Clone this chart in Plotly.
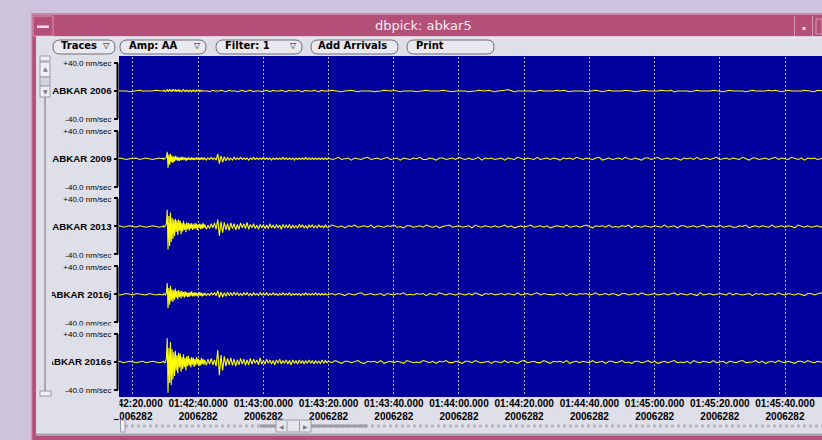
import numpy as np
import plotly.graph_objects as go

# ---------------- data ----------------
stations = ["ABKAR 2006", "ABKAR 2009", "ABKAR 2013", "ABKAR 2016j", "ABKAR 2016s"]
scale_top = "+40.0 nm/sec"
scale_bot = "-40.0 nm/sec"
scale_max = 40.0

tick_secs = [20, 40, 60, 80, 100, 120, 140, 160, 180, 200, 220]   # seconds after 01:42:00
tick_times = ["01:42:20.000", "01:42:40.000", "01:43:00.000", "01:43:20.000", "01:43:40.000",
              "01:44:00.000", "01:44:20.000", "01:44:40.000", "01:45:00.000", "01:45:20.000",
              "01:45:40.000"]
tick_day = "2006282"
x_window = [15.71, 231.35]

# sampling of each trace: segments (start 15 s) with steps 1.0, 0.25, 0.5, 1.0 s
seg_start = 15.0
seg_steps = [1.0, 0.25, 0.5, 1.0]

abkar2006 = [
    [0, 0, 1, 0, -1, 0, 0, 1, 0, 0, -1, 0, 1, 0],
    [0, 0, 1, 0, -1, 1, 2, -1, 1, 2, 0, 1, -1, 2, 1, 0, 2, -1, 1, 0, 2, -1, 1, 0, -1, 1,
     2, 0, -1, 1, 0, 1, -1, 0, 1, 0, -1, 1, 0, 1, 0, -1, 1, 0, 0, 1, -1, 0, 1, 0, 0, 1],
    [0, 1, 0, -1, 0, 1, 0, 0, -1, 0, 1, 0, -1, -1, 0, 1, 0, 0, 1, 0, -1, 0, 0, 1, 0, -1, 0, 1, 1, 0, -1, 0,
     0, 1, 0, -1, 0, 0, 1, 0, -1, 0, 1, 0, 0, -1, 0, 1, 0, 0, -1, 0, 1, 0, 0, -1, 0, 1, 0, 0, -1, 0, 1, 0,
     0, -1, 0, 1, 0, 0, -1, 0, 1, 0, 0, -1],
    [0, 1, 0, 0, -1, 0, 1, 1, 0, -1, 0, 0, 1, 0, -1, -1, 0, 1, 0, 0,
     1, 0, -1, 0, 0, 1, 0, -1, 0, 1, 1, 0, 0, -1, 0, 1, 0, 0, -1, 0,
     0, 1, 0, -1, -1, 0, 1, 0, 0, 1, 0, -1, 0, 0, 1, 2, 0, -1, 0, 0,
     1, 0, 0, -1, 0, 1, 0, 0, -1, 0, 1, 0, 1, 0, -1, 0, 0, 1, 0, -1,
     0, 0, 1, 0, -1, 0, 1, 0, 0, -1, 0, 1, 1, 0, -1, 0, 0, 1, 0, 0,
     -1, 0, 1, 0, 0, 1, -1, 0, 0, 1, 0, -1, 0, 1, 0, 0, -1, 0, 1, 0,
     0, -1, 0, 1, 0, 0, 1, 0, -1, 0, 1, 0, 0, -1, 0, 1, 0, 1, 0, -1,
     0, 1, 0, 0, -1, 0, 1, 0, 0, -1, 1, 0, 0, 1, 0, -1, 0, 0, 1, 0],
]

abkar2009 = [
    [0, 1, 0, -1, 0, 0, 1, -1, 0, 1, 0, -1, 0, 1],
    [0, 1, -1, 0, 1, 2, 10, -13, 6, -9, 7, -5, 4, -6, 3, -4, 4, -2, 3, -3, 2, -3, 2, -2,
     3, -2, 2, -1, 2, -3, 1, -2, 2, -1, 1, -2, 2, -1, 1, -2, 1, -1, 2, -1, 1, -2, 1, -1, 2, -1, 1, -1],
    [1, -2, 1, -1, 2, -1, 1, -2, 7, -7, 4, -5, 3, -3, 2, -2, 1, -2, 2, -1, 1, -1, 2, -1,
     1, -1, 1, -2, 1, -1, 2, -1, 1, -1, 1, -1, 2, -1, 1, -1, 1, -2, 1, -1, 1, -1, 1, -1,
     2, -1, 1, -1, 1, -1, 1, -2, 1, -1, 1, -1, 1, -1, 2, -1, 1, -1, 1, -1, 1, -1, 1, -1, 1, -1, 1, -1],
    [1, -1, 0, 2, -1, 0, 1, -2, 1, 0, -1, 1, 2, -1, 0, 1, -1, 0, 2, -1,
     0, 1, -2, 1, 0, -1, 1, 0, 2, -1, -1, 1, 0, -2, 1, 1, -1, 0, 1, -1,
     2, 0, -1, 1, -1, 0, 2, -2, 1, 0, 1, -1, 0, 1, -2, 1, 0, -1, 2, 0,
     -1, 1, 0, -1, 2, -1, 0, 1, -1, 1, 0, -2, 1, 0, 1, -1, 2, 0, -1, 1,
     0, -1, 1, 2, -2, 0, 1, -1, 0, 1, -1, 2, 0, -1, 1, 0, -2, 1, 1, -1,
     0, 2, -1, 0, 1, -1, 1, 0, -2, 1, 0, 1, -1, 2, -1, 0, 1, -1, 0, 2,
     -1, 0, 1, -1, 1, 0, -1, 2, 0, -2, 1, 1, -1, 0, 1, -1, 0, 2, -1, 1,
     0, -1, 2, 0, -1, 1, -2, 1, 0, 1, -1, 0, 2, -1, 0, 1, -1, 1, 0, -1],
]

abkar2013 = [
    [0, 1, -1, 0, 1, 0, -1, 1, 0, -1, 0, 1, 0, -1],
    [0, 1, -1, 0, 1, 4, 24, -33, 15, -28, 20, -22, 12, -18, 10, -14, 11, -8, 9, -12, 10, -6,
     8, -11, 5, -7, 8, -5, 4, -8, 6, -4, 5, -6, 4, -3, 5, -5, 3, -4, 5, -3, 4, -5, 3, -2,
     4, -4, 3, -3, 5, -2],
    [3, -4, 2, -3, 4, -2, 5, -4, 10, -13, 7, -9, 6, -5, 4, -6, 5, -3, 4, -5, 3, -4, 5, -2,
     4, -3, 6, -4, 3, -2, 4, -3, 2, -4, 3, -2, 3, -3, 2, -3, 4, -2, 2, -3, 3, -2, 2, -4,
     3, -2, 2, -2, 3, -3, 2, -2, 1, -2, 3, -1, 2, -2, 1, -3, 2, -1, 2, -2, 1, -2, 2, -1, 1, -2, 2, -1],
    [-1, 2, 0, -1, 1, -2, 1, 0, 2, -1, 0, 1, -1, 2, -2, 1, 0, -1, 1, 0,
     2, -1, 0, -2, 1, 1, -1, 0, 1, -1, 2, 0, -1, 1, -2, 0, 1, 2, -1, 0,
     1, -1, 0, 1, -2, 2, 0, -1, 1, 0, -1, 1, -1, 0, 2, -1, 1, -2, 0, 1,
     -1, 0, 2, -1, 0, 1, -1, 1, -2, 0, 1, 0, -1, 2, -1, 0, 1, -1, 0, 2,
     0, -2, 1, 0, 1, -1, 2, -1, 0, -1, 1, 0, 2, -2, 1, 0, -1, 1, 0, -1,
     1, 0, -1, 2, -1, 0, 1, -2, 1, 1, -1, 0, 1, -1, 0, 2, -1, 0, 1, -1,
     2, -1, 0, 1, -1, -1, 1, 0, 2, -2, 0, 1, -1, 1, 0, -1, 2, -1, 0, 1,
     -1, 1, 0, -2, 2, 0, -1, 1, -1, 0, 1, -1, 2, 0, -1, 1, 0, -2, 1, 0],
]

abkar2016j = [
    [0, -1, 0, 1, 0, -1, 1, 0, 0, -1, 1, 0, -1, 0],
    [0, -1, 1, 0, -1, 3, 16, -20, 9, -15, 12, -10, 7, -11, 6, -8, 8, -5, 5, -7, 6, -4, 4, -6,
     5, -3, 3, -5, 4, -3, 3, -4, 2, -4, 3, -2, 4, -3, 2, -3, 3, -2, 2, -3, 2, -2, 3, -2,
     2, -3, 1, -2],
    [2, -2, 1, -2, 2, -1, 2, -2, 5, -5, 3, -4, 2, -3, 3, -2, 2, -2, 3, -1, 2, -2, 1, -2,
     2, -1, 2, -2, 1, -2, 2, -1, 1, -2, 2, -1, 1, -1, 2, -2, 1, -1, 2, -1, 1, -2, 1, -1,
     2, -1, 1, -1, 2, -2, 1, -1, 1, -1, 1, -2, 1, -1, 2, -1, 1, -1, 1, -1, 2, -1, 1, -1, 1, -1, 1, -1],
    [0, 1, -1, 1, 0, -2, 1, 0, -1, 1, 2, -1, 0, 1, -1, 0, 1, -2, 1, 0,
     -1, 1, 0, 2, -1, 0, -1, 1, 0, 1, -2, 1, 0, -1, 2, 0, -1, 1, 0, -1,
     1, 0, -1, 1, -1, 2, 0, -2, 1, 0, 1, -1, 0, 1, -1, 1, 0, -1, 2, -1,
     0, 1, -1, 0, 2, -1, 1, 0, -1, -1, 1, 0, 1, -2, 1, 0, -1, 1, 0, 1,
     -1, 0, 2, -1, 0, 1, -1, 1, 0, -2, 1, 1, -1, 0, 1, -1, 2, 0, -1, 0,
     1, -1, 0, 1, -1, 0, 2, -1, 1, 0, -1, 1, 0, -2, 2, -1, 0, 1, -1, 0,
     1, 0, -1, 2, -1, 1, 0, -1, 0, 1, -2, 1, 0, 1, -1, 0, 1, -1, 2, 0,
     -1, 1, 0, -1, 1, 0, -2, 1, 1, -1, 0, 2, -1, 0, 1, -1, 0, 1, -1, 1],
]

abkar2016s = [
    [0, 1, -1, 0, 1, 0, -1, 0, 1, -1, 0, 1, 0, -1],
    [0, 1, 0, -1, 0, 6, 34, -44, 20, -30, 28, -33, 18, -25, 14, -20, 16, -12, 10, -16, 13, -8,
     12, -14, 7, -10, 11, -7, 6, -12, 8, -6, 9, -5, 5, -8, 7, -4, 6, -7, 4, -5, 7, -3, 5, -6,
     3, -5, 6, -3, 4, -4],
    [3, -5, 4, -3, 5, -4, 3, -6, 17, -19, 10, -12, 8, -6, 5, -4, 6, -5, 4, -6, 3, -4, 5, -3,
     4, -5, 3, -4, 5, -3, 4, -2, 3, -4, 6, -3, 2, -3, 4, -2, 3, -3, 2, -4, 3, -2, 4, -3,
     2, -2, 3, -3, 2, -4, 3, -2, 2, -3, 3, -2, 2, -3, 2, -2, 3, -2, 2, -3, 2, -2, 1, -2, 3, -2, 2, -1],
    [1, -1, 2, 0, -2, 1, 1, -1, 0, 2, -1, -2, 1, 0, 1, -1, 2, -2, 0, 1,
     -1, 1, 0, -2, 2, 1, -1, 0, -1, 2, 0, -1, 1, -2, 1, 0, 2, -1, -1, 1,
     0, -2, 1, 1, -1, 2, 0, -1, 0, 1, -2, 1, 0, -1, 2, -1, 1, 0, -2, 1,
     2, -1, 0, 1, -1, -1, 2, 0, -2, 1, 0, 1, -1, 2, -2, 0, 1, -1, 1, 0,
     -1, 2, -1, 0, 1, -2, 1, 1, -1, 0, 2, -1, 0, -2, 1, 1, -1, 0, 2, -1,
     1, -2, 0, 1, -1, 1, 2, -1, 0, -1, 1, -2, 2, 0, -1, 1, 0, -1, 2, -1,
     0, 1, -2, 1, 0, -1, 1, 2, -1, -1, 0, 2, -1, 1, -2, 0, 1, -1, 2, 0,
     -1, 1, 0, -2, 1, 1, -1, 2, 0, -1, 1, 0, -1, 2, -1, 0, 1, -2, 1, 0],
]

waveforms = [abkar2006, abkar2009, abkar2013, abkar2016j, abkar2016s]


def build(segments):
    t0 = seg_start
    ts, vs = [], []
    for step, vals in zip(seg_steps, segments):
        ts.append(t0 + step * np.arange(len(vals)))
        vs.extend(vals)
        t0 += step * len(vals)
    return np.concatenate(ts), np.array(vs, dtype=float)


# ---------------- geometry helpers (pixels) ----------------
W, H = 822, 440
def px(x): return x / W
def py(y): return 1 - y / H

shapes, annotations = [], []

def rect(x0, y0, x1, y1, fill, line=None, lw=0, layer="below"):
    shapes.append(dict(type="rect", xref="paper", yref="paper",
                       x0=px(x0), x1=px(x1), y0=py(y1), y1=py(y0),
                       fillcolor=fill, line=dict(color=line or fill, width=lw), layer=layer))

def seg(x0, y0, x1, y1, color, lw=1, layer="below", dash="solid"):
    shapes.append(dict(type="line", xref="paper", yref="paper",
                       x0=px(x0), x1=px(x1), y0=py(y0), y1=py(y1),
                       line=dict(color=color, width=lw, dash=dash), layer=layer))

def pill(x0, y0, x1, y1, fill, line, r=7):
    X = lambda v: f"{px(v):.5f}"
    Y = lambda v: f"{py(v):.5f}"
    p = (f"M {X(x0+r)},{Y(y0)} L {X(x1-r)},{Y(y0)} Q {X(x1)},{Y(y0)} {X(x1)},{Y(y0+r)} "
         f"L {X(x1)},{Y(y1-r)} Q {X(x1)},{Y(y1)} {X(x1-r)},{Y(y1)} "
         f"L {X(x0+r)},{Y(y1)} Q {X(x0)},{Y(y1)} {X(x0)},{Y(y1-r)} "
         f"L {X(x0)},{Y(y0+r)} Q {X(x0)},{Y(y0)} {X(x0+r)},{Y(y0)} Z")
    shapes.append(dict(type="path", xref="paper", yref="paper", path=p,
                       fillcolor=fill, line=dict(color=line, width=1), layer="below"))

def text(x, y, s, size=10, color="#000000", family="Liberation Sans", bold=False, xanchor="left"):
    annotations.append(dict(x=px(x), y=py(y), xref="paper", yref="paper", text=s,
                            showarrow=False, xanchor=xanchor, yanchor="middle", borderpad=0,
                            font=dict(family=family, size=size, color=color,
                                      weight="bold" if bold else "normal")))

PINK = "#b45078"
PINK_LIGHT = "#d898b4"
GRAY = "#dfdfea"
BLUE = "#00009c"
LAVENDER = "#cdc3dc"

# ---------------- window chrome ----------------
rect(31, 13, 822, 440, PINK)
seg(31, 14, 822, 14, PINK_LIGHT, 1.5)
seg(31.5, 14, 31.5, 440, PINK_LIGHT, 1.5)
rect(33, 16, 53, 36, PINK, line=PINK_LIGHT, lw=1)
rect(37, 25.5, 49, 28, "#f2dfe8", line="#f2dfe8")
seg(794.5, 16, 794.5, 36, PINK_LIGHT, 1)
rect(802.5, 27, 805.5, 30, "#f2dfe8", line="#f2dfe8")
seg(812.5, 16, 812.5, 36, PINK_LIGHT, 1)
rect(816, 19, 822, 34, PINK, line=PINK_LIGHT, lw=1)
rect(36, 36.5, 822, 434, GRAY)
seg(36, 37, 822, 37, "#f4f4f8", 1)
rect(36, 433.5, 822, 436, "#a8a0b0")
text(423, 26, "dbpick: abkar5", size=13, color="#f8eef4", family="DejaVu Sans", xanchor="center")

# toolbar
buttons = [(53, 115), (120, 206), (216, 302), (311, 398), (407, 494)]
for bx0, bx1 in buttons:
    pill(bx0, 40, bx1, 54, "#e9e9ef", "#6e6e78")
text(60, 46, "Traces", 10, bold=True, family="DejaVu Sans")
text(106, 46, "▽", 8, family="DejaVu Sans", xanchor="center")
text(128, 46, "Amp: AA", 10, bold=True, family="DejaVu Sans")
text(197, 46, "▽", 8, family="DejaVu Sans", xanchor="center")
text(224, 46, "Filter: 1", 10, bold=True, family="DejaVu Sans")
text(293, 46, "▽", 8, family="DejaVu Sans", xanchor="center")
text(352, 46, "Add Arrivals", 10, bold=True, family="DejaVu Sans", xanchor="center")
text(415, 46, "Print", 10, bold=True, family="DejaVu Sans")

# plot background
rect(119, 56, 822, 397, BLUE)

# ---------------- traces ----------------
fig = go.Figure()
top, ph = 57.1, 67.75
half_px_40 = 28.0
yhalf = (ph / 2) / half_px_40 * scale_max
layout = {}
centers = []
for i, (name, segs) in enumerate(zip(stations, waveforms)):
    t, v = build(segs)
    k = "" if i == 0 else str(i + 1)
    fig.add_trace(go.Scatter(x=t, y=v, mode="lines", xaxis="x" + k, yaxis="y" + k,
                             line=dict(color="#ffff00", width=1.1), hoverinfo="skip",
                             showlegend=False))
    y0 = top + ph * i
    y1 = y0 + ph
    centers.append((y0 + y1) / 2)
    layout["yaxis" + k] = dict(
        domain=[py(y1), py(y0)], range=[-yhalf, yhalf], anchor="free", position=px(117.5),
        tickvals=[-scale_max, 0, scale_max],
        ticktext=[f"<span style='font-size:8px'>{scale_bot}</span>", f"<b>{name}</b>",
                  f"<span style='font-size:8px'>{scale_top}</span>"],
        ticks="outside", ticklen=4, tickwidth=1.5, tickcolor="#000000",
        tickfont=dict(family="Liberation Sans", size=9.7, color="#000000"),
        showgrid=False, zeroline=False, showline=False, fixedrange=True, automargin=False)
    xa = dict(domain=[px(119), 1], range=x_window, anchor="y" + k,
              tickvals=tick_secs, ticktext=[f"{a}<br>{tick_day}" for a in tick_times],
              showgrid=True, gridcolor="#b4b4c4", griddash="2px,2px", gridwidth=1,
              zeroline=False, showline=False, ticks="", showticklabels=(i == 4),
              tickfont=dict(family="Liberation Sans", size=10, color="#000000", weight="bold"),
              fixedrange=True, automargin=False)
    if i > 0:
        xa["matches"] = "x"
    layout["xaxis" + k] = xa
    # bracket of the amplitude scale
    shapes.append(dict(type="line", xref="paper", yref="y" + k, x0=px(117.5), x1=px(117.5),
                       y0=-scale_max, y1=scale_max, line=dict(color="#000000", width=2),
                       layer="above"))

# clipping masks of the label column
rect(36, 56, 52, 398, GRAY, layer="above")
for c in centers:
    rect(52, c + 31.3, 113, c + 34.2, GRAY, layer="above")
rect(36, 397.5, 119.5, 419, GRAY, layer="above")

# vertical scrollbar (left)
SB = "#eeeef4"; SBL = "#9a9aa8"
seg(45, 97, 45, 391, "#a8a8b4", 2, layer="above")
rect(40, 56, 50, 61, SB, line=SBL, lw=1, layer="above")
rect(40, 62, 50, 77, SB, line=SBL, lw=1, layer="above")
rect(40, 77, 50, 86, "#d4d4e0", line=SBL, lw=1, layer="above")
rect(40, 86, 50, 97, SB, line=SBL, lw=1, layer="above")
rect(40, 391, 51, 396, SB, line=SBL, lw=1, layer="above")
text(45, 68, "▲", 6, color="#7a7a88", family="DejaVu Sans", xanchor="center")
text(45, 91.5, "▼", 6, color="#7a7a88", family="DejaVu Sans", xanchor="center")

# horizontal scrollbar (bottom)
seg(125, 426, 822, 426, "#b4b4c0", 3, layer="above", dash="dot")
rect(260, 424.5, 367, 427.5, "#9c9ca8", layer="above")
rect(120.5, 420, 125, 432, SB, line=SBL, lw=1, layer="above")
rect(276, 420, 311, 432, "#e6e6ee", line=SBL, lw=1, layer="above")
seg(287, 421, 287, 431, SBL, 1, layer="above")
seg(299.5, 421, 299.5, 431, SBL, 1, layer="above")
text(281.5, 426, "◀", 6, color="#7a7a88", family="DejaVu Sans", xanchor="center")
text(305, 426, "▶", 6, color="#7a7a88", family="DejaVu Sans", xanchor="center")

fig.update_layout(
    width=W, height=H, margin=dict(l=0, r=0, t=0, b=0, pad=0, autoexpand=False),
    paper_bgcolor=LAVENDER, plot_bgcolor=BLUE,
    shapes=shapes, annotations=annotations, **layout)

fig.write_html(
    "out.html", config={"displayModeBar": False},
    post_script=f"document.body.style.margin='0px'; document.body.style.background='{LAVENDER}'; "
                "document.body.style.overflow='hidden';")
